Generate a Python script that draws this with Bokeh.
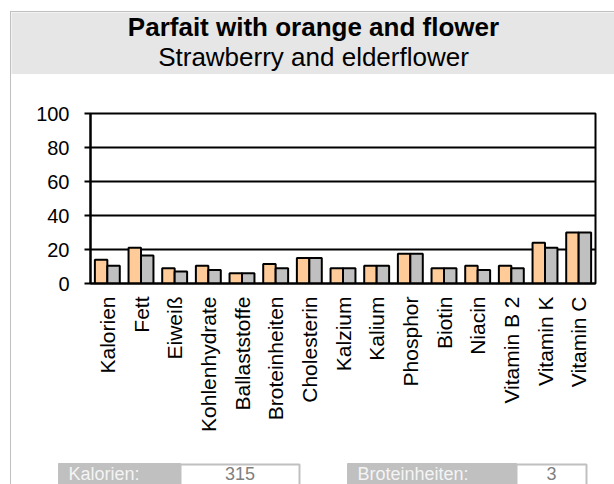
import math
from bokeh.plotting import figure
from bokeh.layouts import column
from bokeh.models import FactorRange, Range1d, ColumnDataSource, FixedTicker
from bokeh.transform import dodge
from bokeh.core.properties import value
from bokeh.embed import file_html
from bokeh.resources import INLINE

title = "Parfait with orange and flower"
subtitle = "Strawberry and elderflower"
categories = ["Kalorien", "Fett", "Eiweiß", "Kohlenhydrate", "Ballaststoffe",
              "Broteinheiten", "Cholesterin", "Kalzium", "Kalium", "Phosphor",
              "Biotin", "Niacin", "Vitamin B 2", "Vitamin K", "Vitamin C"]
series_a = [14, 21, 9, 10.5, 6, 11.5, 15, 9, 10.5, 17.5, 9, 10.5, 10.5, 24, 30]
series_b = [10.5, 16.5, 7, 8, 6, 9, 15, 9, 10.5, 17.5, 9, 8, 9, 21, 30]
y_ticks = [0, 20, 40, 60, 80, 100]
summary_labels = ["Kalorien:", "Broteinheiten:"]
summary_values = ["315", "3"]

FONT = "Liberation Sans"
W = 603
ORANGE = "#ffcc99"
GRAY = "#c0c0c0"

# ---------- header ----------
HH = 62
h = figure(width=W, height=HH, x_range=Range1d(0, W), y_range=Range1d(HH, 0),
           output_backend="svg", toolbar_location=None, min_border=0,
           x_axis_location=None, y_axis_location=None,
           background_fill_color="#e6e6e6", border_fill_color="#e6e6e6",
           outline_line_color=None, frame_align=False)
h.grid.visible = False
h.text(x=[302], y=[14], text=[title], text_font=value(FONT), text_font_size="26px",
       text_font_style="bold", text_align="center", text_baseline="alphabetic",
       text_color="black")
h.text(x=[302], y=[44], text=[subtitle], text_font=value(FONT), text_font_size="26px",
       text_align="center", text_baseline="alphabetic", text_color="black")

# ---------- chart ----------
p = figure(width=W, height=386, x_range=FactorRange(*categories), y_range=Range1d(0, 100),
           output_backend="svg", toolbar_location=None,
           min_border_left=79, min_border_right=19, min_border_top=39, min_border_bottom=177,
           background_fill_color="white", border_fill_color="white", frame_align=False)
src = ColumnDataSource(dict(cat=categories, a=series_a, b=series_b))
p.vbar(x=dodge("cat", -0.185, range=p.x_range), top="a", width=0.37, source=src,
       fill_color=ORANGE, line_color="black", line_width=2)
p.vbar(x=dodge("cat", 0.185, range=p.x_range), top="b", width=0.37, source=src,
       fill_color=GRAY, line_color="black", line_width=2)

p.xgrid.visible = False
p.ygrid.grid_line_color = "black"
p.ygrid.grid_line_width = 2
p.ygrid.ticker = FixedTicker(ticks=y_ticks)
p.outline_line_color = "black"
p.outline_line_width = 2
p.outline_line_alpha = 1

p.yaxis.ticker = FixedTicker(ticks=y_ticks)
p.yaxis.axis_line_color = "black"
p.yaxis.axis_line_width = 2
p.yaxis.major_tick_line_color = "black"
p.yaxis.major_tick_line_width = 2
p.yaxis.major_tick_out = 6
p.yaxis.major_tick_in = 0
p.yaxis.minor_tick_line_color = None
p.yaxis.major_label_standoff = 15
p.yaxis.major_label_text_font = FONT
p.yaxis.major_label_text_font_size = "20px"
p.yaxis.major_label_text_color = "black"

p.xaxis.axis_line_color = "black"
p.xaxis.axis_line_width = 2
p.xaxis.major_tick_line_color = None
p.xaxis.minor_tick_line_color = None
p.xaxis.major_label_orientation = math.pi / 2
p.xaxis.major_label_standoff = 7
p.xaxis.major_label_text_font = FONT
p.xaxis.major_label_text_font_size = "21px"
p.xaxis.major_label_text_color = "black"

# ---------- footer ----------
FH = 24
f = figure(width=W, height=FH, x_range=Range1d(0, W), y_range=Range1d(FH, 0),
           output_backend="svg", toolbar_location=None, min_border=0,
           x_axis_location=None, y_axis_location=None,
           background_fill_color="white", border_fill_color="white",
           outline_line_color=None, frame_align=False)
f.grid.visible = False
f.quad(left=[47, 336], right=[169, 505], top=[3, 3], bottom=[40, 40],
       fill_color=GRAY, line_color=GRAY, line_width=1)
f.quad(left=[169, 505], right=[288, 575], top=[4, 4], bottom=[40, 40],
       fill_color="white", line_color=GRAY, line_width=2)
f.text(x=[57, 346], y=[13, 13], text=summary_labels, text_font=value(FONT),
       text_font_size="18px", text_align="left", text_baseline="alphabetic",
       text_color="#f4f4f4")
f.text(x=[228.5, 540], y=[13, 13], text=summary_values, text_font=value(FONT),
       text_font_size="18px", text_align="center", text_baseline="alphabetic",
       text_color="#808080")

layout = column(h, p, f, margin=(11, 0, 0, 10), spacing=0,
                styles={"border-left": "1px solid #c0c0c0", "border-top": "1px solid #c0c0c0"})

open("out.html", "w").write(file_html(layout, INLINE))
